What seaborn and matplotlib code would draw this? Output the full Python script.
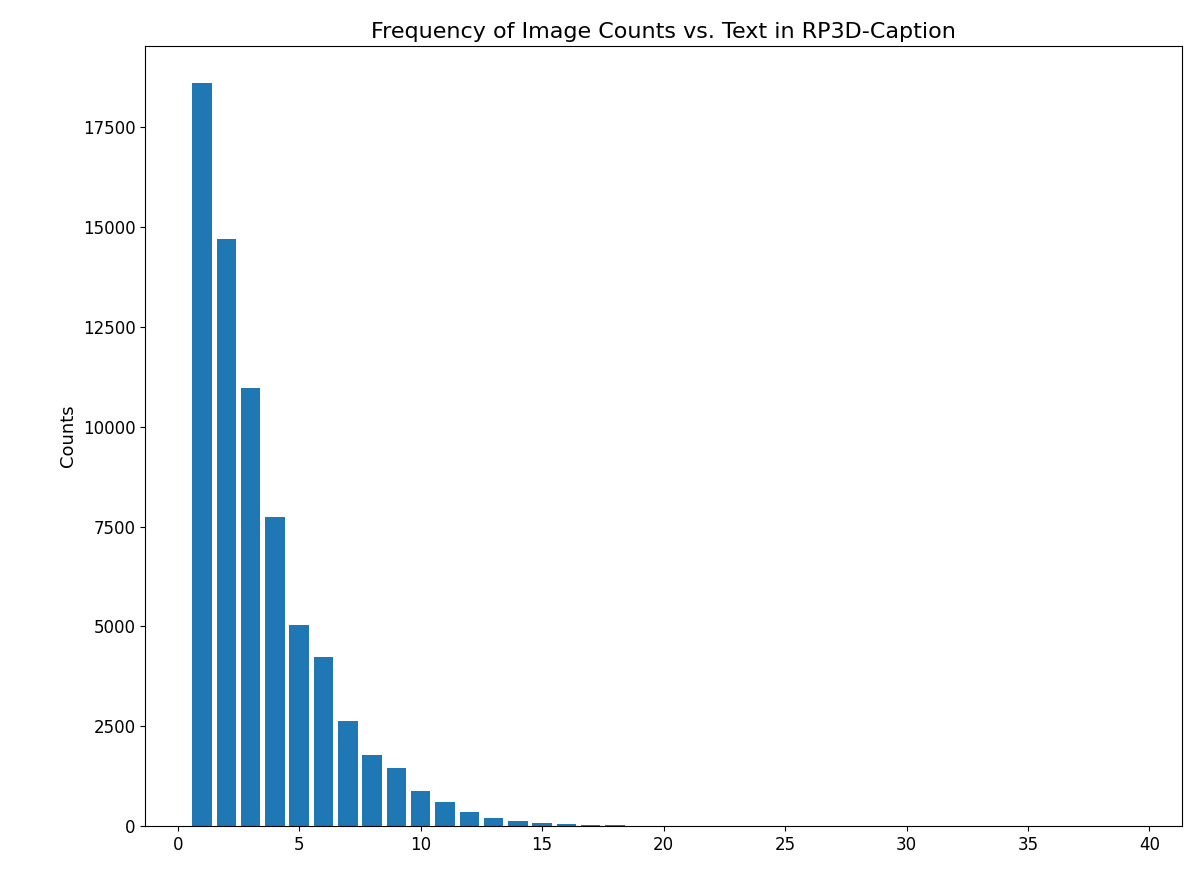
import matplotlib
matplotlib.use("Agg")
import matplotlib.pyplot as plt
import seaborn as sns
import numpy as np

image_counts = list(range(1, 40))
counts = [18600, 14700, 10960, 7730, 5025, 4240, 2630, 1770, 1440, 880,
          600, 350, 200, 130, 80, 40, 25, 15, 8, 6,
          5, 4, 3, 3, 2, 2, 2, 1, 1, 1,
          1, 1, 1, 1, 1, 1, 1, 1, 1]

fig, ax = plt.subplots(figsize=(12, 8.74), dpi=100)
sns.barplot(x=image_counts, y=counts, native_scale=True, color="#1f77b4",
            saturation=1, width=0.8, linewidth=0, ax=ax)
ax.set_xlim(-1.34, 41.34)
ax.set_xticks(range(0, 41, 5))
ax.set_xticklabels([str(v) for v in range(0, 41, 5)])
ax.set_ylabel("Counts", fontsize=13)
ax.set_title("Frequency of Image Counts vs. Text in RP3D-Caption", fontsize=16)
ax.tick_params(labelsize=12)
plt.subplots_adjust(left=0.121, right=0.985, top=0.947, bottom=0.055)
fig.savefig("out.png")
